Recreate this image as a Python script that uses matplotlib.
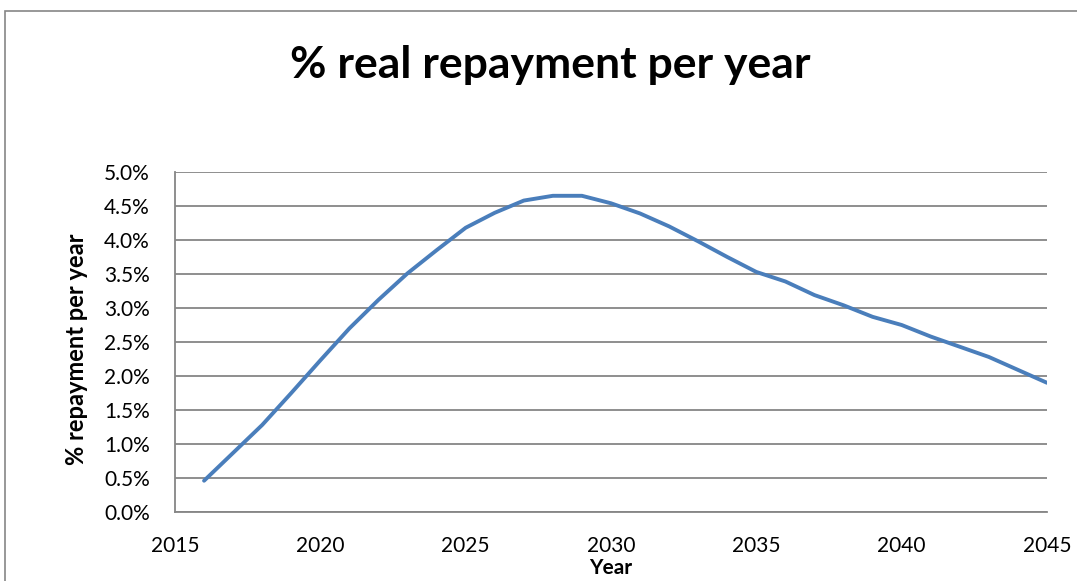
import matplotlib
matplotlib.use("Agg")
import matplotlib.pyplot as plt
from matplotlib.patches import Rectangle
from matplotlib.ticker import PercentFormatter

years = list(range(2016, 2046))
repay_pct = [0.46, 0.87, 1.28, 1.75, 2.23, 2.70, 3.12, 3.51, 3.85, 4.18,
             4.40, 4.58, 4.65, 4.65, 4.54, 4.39, 4.20, 3.98, 3.75, 3.53,
             3.39, 3.19, 3.04, 2.87, 2.75, 2.58, 2.43, 2.28, 2.09, 1.90]

LINE = "#4A7EBB"
GRID = "#868686"
FONT = "Lato"

fig = plt.figure(figsize=(10.77, 5.81), dpi=100)
fig.patches.append(Rectangle((5 / 1077, -0.1), 1.2, 1 - 11 / 581 + 0.1,
                             transform=fig.transFigure, fill=False,
                             edgecolor=GRID, linewidth=1.2))
ax = fig.add_axes([175 / 1077, 1 - 512 / 581, 872 / 1077, 340 / 581])

ax.plot(years, repay_pct, color=LINE, linewidth=2.8,
        solid_capstyle="round", solid_joinstyle="round")
ax.set_xlim(2015, 2045)
ax.set_ylim(0, 5)
ax.set_xticks(range(2015, 2046, 5))
ax.set_yticks([i * 0.5 for i in range(11)])
ax.yaxis.set_major_formatter(PercentFormatter(decimals=1))
ax.grid(True, axis="y", color=GRID, linewidth=1.3)
ax.set_axisbelow(True)
for s in ("top", "right"):
    ax.spines[s].set_visible(False)
for s in ("left", "bottom"):
    ax.spines[s].set_color(GRID)
    ax.spines[s].set_linewidth(1.3)
ax.tick_params(length=0, labelsize=15)
ax.tick_params(axis="y", pad=18)
ax.tick_params(axis="x", pad=17)
for lab in ax.get_xticklabels() + ax.get_yticklabels():
    lab.set_fontfamily(FONT)

ax.set_xlabel("Year", fontfamily=FONT, fontweight="bold", fontsize=15, labelpad=2)
ax.set_ylabel("% repayment per year", fontfamily=FONT, fontweight="bold", fontsize=17)
ax.yaxis.set_label_coords(-0.1, 0.48)
fig.text(550 / 1077, 1 - 65 / 581, "% real repayment per year", ha="center", va="center",
         fontfamily=FONT, fontweight="bold", fontsize=32)

fig.savefig("out.png", dpi=100)
